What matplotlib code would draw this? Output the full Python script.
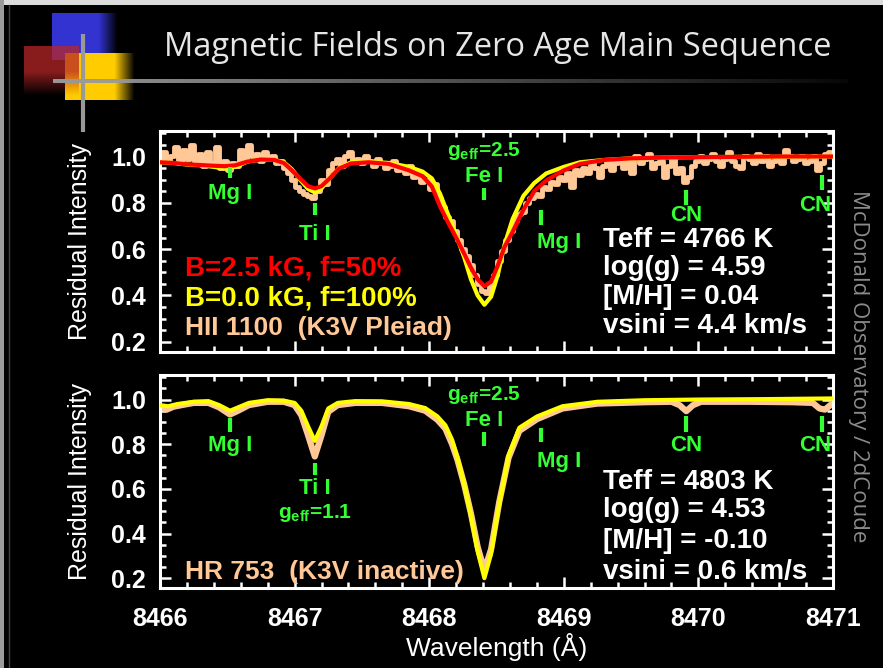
import numpy as np
import matplotlib
matplotlib.use("Agg")
import matplotlib.pyplot as plt
from matplotlib.ticker import MultipleLocator

plt.rcParams['font.family'] = ['Liberation Sans', 'DejaVu Sans']
plt.rcParams['mathtext.fontset'] = 'custom'
plt.rcParams['mathtext.rm'] = 'Liberation Sans:bold'
plt.rcParams['mathtext.it'] = 'Liberation Sans:bold'

# --- HII 1100 (top panel) ---------------------------------------------
# observed spectrum, binned every 0.03 A starting at 8466.00
obs_top_start = 8466.0
obs_top_step = 0.03
obs_top = [
    0.99, 1.02, 0.98, 1.00, 1.04, 0.97, 1.03, 0.99, 1.05, 0.98,
    1.01, 0.96, 1.02, 0.97, 1.04, 0.95, 0.98, 0.94, 0.97, 0.96,
    1.03, 0.99, 1.05, 1.00, 1.01, 0.98, 1.02, 0.99, 1.00, 0.97,
    0.98, 0.95, 0.93, 0.90, 0.87, 0.85, 0.84, 0.83, 0.82, 0.85,
    0.90, 0.88, 0.94, 0.97, 0.99, 0.96, 1.00, 1.02, 0.98, 0.99,
    0.97, 1.00, 0.98, 0.96, 0.99, 0.97, 0.95, 0.96, 0.98, 0.94,
    0.95, 0.93, 0.96, 0.91, 0.93, 0.89, 0.90, 0.86, 0.88, 0.82,
    0.78, 0.74, 0.72, 0.68, 0.64, 0.60, 0.57, 0.53, 0.49, 0.45,
    0.42, 0.41, 0.44, 0.49, 0.55, 0.59, 0.64, 0.68, 0.72, 0.75,
    0.76, 0.80, 0.82, 0.84, 0.83, 0.87, 0.86, 0.89, 0.88, 0.91,
    0.90, 0.93, 0.87, 0.94, 0.92, 0.95, 0.93, 0.97, 0.95, 0.91,
    0.96, 0.98, 0.94, 0.97, 0.99, 0.95, 0.98, 0.93, 1.00, 0.97,
    0.99, 1.01, 0.95, 0.97, 0.98, 0.91, 0.96, 0.99, 0.93, 0.95,
    0.89, 0.91, 0.96, 0.98, 1.00, 0.97, 0.99, 1.01, 0.98, 0.96,
    0.99, 1.02, 0.98, 0.96, 0.95, 1.00, 0.99, 0.97, 1.01, 0.98,
    1.00, 0.96, 0.98, 0.99, 0.97, 1.03, 1.00, 0.98, 0.99, 1.00,
    0.97, 0.98, 1.00, 0.94, 0.97, 1.01, 1.02,
]

# synthetic spectra (B=0 and B=2.5 kG)
wl_model_top = [
    8466.00, 8466.10, 8466.20, 8466.30, 8466.40, 8466.48, 8466.56, 8466.65,
    8466.75, 8466.85, 8466.92, 8466.98, 8467.04, 8467.10, 8467.15, 8467.20,
    8467.26, 8467.33, 8467.42, 8467.55, 8467.70, 8467.85, 8467.95, 8468.02,
    8468.08, 8468.14, 8468.20, 8468.26, 8468.31, 8468.36, 8468.41, 8468.46,
    8468.51, 8468.56, 8468.62, 8468.70, 8468.78, 8468.87, 8469.00, 8469.12,
    8469.30, 8469.50, 8469.80, 8470.20, 8470.60, 8471.00,
]
b0_top = [
    0.975, 0.972, 0.965, 0.962, 0.955, 0.948, 0.955, 0.978,
    0.987, 0.986, 0.975, 0.945, 0.900, 0.860, 0.845, 0.862,
    0.905, 0.950, 0.975, 0.978, 0.972, 0.955, 0.935, 0.905,
    0.840, 0.750, 0.660, 0.565, 0.470, 0.400, 0.360, 0.395,
    0.490, 0.620, 0.730, 0.830, 0.885, 0.927, 0.955, 0.975,
    0.985, 0.992, 0.996, 0.998, 0.999, 1.000,
]
b25_top = [
    0.975, 0.972, 0.966, 0.963, 0.960, 0.958, 0.962, 0.978,
    0.987, 0.985, 0.972, 0.940, 0.905, 0.872, 0.862, 0.872,
    0.905, 0.948, 0.970, 0.975, 0.968, 0.940, 0.915, 0.870,
    0.785, 0.715, 0.650, 0.580, 0.520, 0.470, 0.440, 0.460,
    0.530, 0.610, 0.675, 0.770, 0.850, 0.897, 0.940, 0.968,
    0.985, 0.992, 0.996, 0.998, 1.000, 1.000,
]

# --- HR 753 (bottom panel) ---------------------------------------------
wl_model_bot = [
    8466.00, 8466.06, 8466.13, 8466.25, 8466.36, 8466.44, 8466.52, 8466.58,
    8466.66, 8466.80, 8466.92, 8467.00, 8467.05, 8467.10, 8467.15, 8467.20,
    8467.25, 8467.32, 8467.45, 8467.65, 8467.85, 8467.97, 8468.06, 8468.12,
    8468.17, 8468.21, 8468.26, 8468.31, 8468.36, 8468.41, 8468.46, 8468.51,
    8468.59, 8468.67, 8468.80, 8468.99, 8469.25, 8469.60, 8470.00, 8470.50,
    8471.00,
]
b0_bot = [
    0.975, 0.970, 0.980, 0.990, 0.993, 0.975, 0.950, 0.965,
    0.985, 0.997, 0.995, 0.985, 0.950, 0.880, 0.815, 0.880,
    0.960, 0.985, 0.993, 0.992, 0.980, 0.962, 0.925, 0.885,
    0.820, 0.740, 0.620, 0.480, 0.320, 0.200, 0.310, 0.500,
    0.750, 0.874, 0.924, 0.970, 0.990, 0.997, 1.000, 1.002,
    1.005,
]
wl_obs_bot = [
    8466.00, 8466.05, 8466.10, 8466.16, 8466.25, 8466.36, 8466.44, 8466.52,
    8466.58, 8466.66, 8466.80, 8466.92, 8467.00, 8467.05, 8467.10, 8467.15,
    8467.20, 8467.25, 8467.32, 8467.45, 8467.65, 8467.85, 8467.97, 8468.06,
    8468.12, 8468.17, 8468.21, 8468.26, 8468.31, 8468.36, 8468.41, 8468.46,
    8468.52, 8468.59, 8468.67, 8468.80, 8468.99, 8469.25, 8469.60, 8469.80,
    8469.86, 8469.91, 8469.96, 8470.02, 8470.40, 8470.70, 8470.85, 8470.90,
    8470.94, 8470.98, 8471.00,
]
obs_bot = [
    0.965, 0.955, 0.968, 0.975, 0.985, 0.985, 0.965, 0.933,
    0.950, 0.975, 0.990, 0.990, 0.975, 0.930, 0.840, 0.745,
    0.840, 0.945, 0.975, 0.985, 0.985, 0.970, 0.950, 0.910,
    0.870, 0.800, 0.730, 0.620, 0.490, 0.340, 0.235, 0.330,
    0.540, 0.740, 0.860, 0.912, 0.960, 0.982, 0.988, 0.990,
    0.975, 0.948, 0.975, 0.990, 0.990, 0.988, 0.985, 0.960,
    0.955, 0.975, 0.985,
]

# --- line identifications
line_wl = [8466.52, 8467.15, 8468.41, 8468.83, 8469.91, 8470.92]
line_names = ['Mg I', 'Ti I', 'Fe I', 'Mg I', 'CN', 'CN']
tick_lo_top = [0.905, 0.746, 0.810, 0.703, 0.789, 0.854]
tick_hi_top = [0.953, 0.798, 0.862, 0.768, 0.854, 0.918]
label_y_top = [0.840, 0.665, 0.912, 0.630, 0.746, 0.790]
tick_lo_bot = [0.856, 0.663, 0.793, 0.811, 0.856, 0.856]
tick_hi_bot = [0.919, 0.717, 0.856, 0.874, 0.928, 0.928]
label_y_bot = [0.793, 0.602, 0.905, 0.721, 0.793, 0.793]

params_top = ['Teff = 4766 K', 'log(g) = 4.59', '[M/H] = 0.04', 'vsini = 4.4 km/s']
params_bot = ['Teff = 4803 K', 'log(g) = 4.53', '[M/H] = -0.10', 'vsini = 0.6 km/s']
params_y_top = [0.639, 0.518, 0.394, 0.269]
params_y_bot = [0.631, 0.506, 0.366, 0.227]

PEACH = '#FFC896'
GREEN = '#33FF33'
W, H = 883, 668

fig = plt.figure(figsize=(W / 100, H / 100), dpi=100, facecolor='black')

# slide decoration layer in pixel coordinates
deco = fig.add_axes([0, 0, 1, 1], zorder=0)
deco.set_xlim(0, W)
deco.set_ylim(H, 0)
deco.axis('off')
deco.add_patch(plt.Rectangle((0, 0), W, 5, color='#DCDCDC', lw=0))
deco.add_patch(plt.Rectangle((0, 0), 4, H, color='#9A9A9A', lw=0))
deco.plot([9, 9], [5, H], color='#404040', lw=1)


def fade_square(x0, x1, y0, y1, rgb, alpha=1.0, horizontal=True, frac=0.3, z=1):
    n = 64
    ramp = np.ones(n)
    k = int(n * frac)
    ramp[n - k:] = np.linspace(1, 0, k)
    img = np.zeros((n, n, 4))
    img[..., :3] = rgb
    if horizontal:
        img[..., 3] = alpha * ramp[None, :]
    else:
        img[..., 3] = alpha * ramp[:, None]
    deco.imshow(img, extent=(x0, x1, y1, y0), aspect='auto', zorder=z,
                interpolation='bilinear')


fade_square(52, 118, 13, 60, (0.2, 0.2, 0.82), z=1)
fade_square(65, 135, 53, 100, (1.0, 0.8, 0.0), z=2)
fade_square(24, 79, 46, 96, (0.72, 0.15, 0.15), alpha=0.75, horizontal=False,
            frac=0.5, z=3)
# grey rule under the title, fading to the right
rule = np.zeros((1, 256, 4))
rule[..., :3] = 0.6
rule[..., 3] = np.linspace(1, 0.05, 256)
deco.imshow(rule, extent=(53, 848, 83, 79), aspect='auto', zorder=4)
deco.plot([83, 83], [34, 132], color='#999999', lw=3, zorder=5,
          solid_capstyle='butt')

fig.text(498 / W, 1 - 48 / H, 'Magnetic Fields on Zero Age Main Sequence',
         color='#E6E6E6', fontsize=23.5, ha='center', va='center',
         family='Open Sans')
fig.text(858 / W, 1 - 366 / H, 'McDonald Observatory / 2dCoude',
         color='#8C8C8C', fontsize=16, rotation=-90, ha='center', va='center',
         family='Open Sans')

ax1 = fig.add_axes([160 / W, 1 - 352 / H, 673 / W, 221 / H], zorder=2)
ax2 = fig.add_axes([160 / W, 1 - 588 / H, 673 / W, 213 / H], zorder=2)

for ax in (ax1, ax2):
    ax.set_facecolor('black')
    ax.set_xlim(8466, 8471)
    ax.set_ylim(0.156, 1.11)
    for sp in ax.spines.values():
        sp.set_color('white')
        sp.set_linewidth(2.2)
    ax.xaxis.set_major_locator(MultipleLocator(1))
    ax.xaxis.set_minor_locator(MultipleLocator(0.2))
    ax.yaxis.set_major_locator(MultipleLocator(0.2))
    ax.yaxis.set_minor_locator(MultipleLocator(0.05))
    ax.tick_params(which='both', direction='in', colors='white', top=True,
                   right=True, width=1.8, labelsize=18)
    ax.tick_params(axis='y', pad=10)
    ax.tick_params(axis='x', pad=14)
    ax.tick_params(which='major', length=8)
    ax.tick_params(which='minor', length=4)
    ax.set_yticks([0.2, 0.4, 0.6, 0.8, 1.0])
    ax.set_yticklabels(['0.2', '0.4', '0.6', '0.8', '1.0'], fontweight='bold')
    ax.set_ylabel('Residual Intensity', color='white', fontsize=18,
                  labelpad=14)

ax1.tick_params(labelbottom=False)
ax2.set_xticks([8466, 8467, 8468, 8469, 8470, 8471])
ax2.set_xticklabels(['8466', '8467', '8468', '8469', '8470', '8471'],
                    fontweight='bold')
ax2.set_xlabel('Wavelength (Å)', color='white', fontsize=19, labelpad=1)

# top panel spectra
wl_obs_top = obs_top_start + obs_top_step * np.arange(len(obs_top))
ax1.plot(wl_obs_top, obs_top, color=PEACH, lw=3.5, drawstyle='steps-mid',
         zorder=2)
ax1.plot(wl_model_top, b0_top, color='#FFFF00', lw=3, zorder=3)
ax1.plot(wl_model_top, b25_top, color='#FF0000', lw=3, zorder=4)

# bottom panel spectra
ax2.plot(wl_obs_bot, obs_bot, color=PEACH, lw=4.5, zorder=2)
ax2.plot(wl_model_bot, b0_bot, color='#FFFF00', lw=3, zorder=3)


def mark_lines(ax, lo, hi, ly):
    ax.vlines(line_wl, lo, hi, color=GREEN, lw=3, zorder=5)
    for i, (w, name, y) in enumerate(zip(line_wl, line_names, ly)):
        ha = 'center'
        if i == 3:
            ha, w = 'left', w - 0.03
        if i == 5:
            ha, w = 'right', w + 0.07
        ax.text(w, y, name, color=GREEN, fontsize=16, fontweight='bold',
                ha=ha, va='center', zorder=6)
    ax.text(8468.41, 1.022, r'g$_{\mathrm{eff}}$=2.5', color=GREEN,
            fontsize=15, fontweight='bold', ha='center', va='center', zorder=6)


mark_lines(ax1, tick_lo_top, tick_hi_top, label_y_top)
mark_lines(ax2, tick_lo_bot, tick_hi_bot, label_y_bot)
ax2.text(8467.15, 0.490, r'g$_{\mathrm{eff}}$=1.1', color=GREEN, fontsize=15,
         fontweight='bold', ha='center', va='center', zorder=6)

for ax, lines, ys in ((ax1, params_top, params_y_top), (ax2, params_bot, params_y_bot)):
    for s, y in zip(lines, ys):
        ax.text(8469.29, y, s, color='white', fontsize=20, fontweight='bold',
                ha='left', va='center', zorder=6)

legend_x = 8466.186
ax1.text(legend_x, 0.518, 'B=2.5 kG, f=50%', color='#FF0000', fontsize=20,
         fontweight='bold', va='center', zorder=6)
ax1.text(legend_x, 0.389, 'B=0.0 kG, f=100%', color='#FFFF00', fontsize=20,
         fontweight='bold', va='center', zorder=6)
ax1.text(legend_x, 0.260, 'HII 1100  (K3V Pleiad)', color=PEACH, fontsize=19,
         fontweight='bold', va='center', zorder=6)
ax2.text(legend_x, 0.227, 'HR 753  (K3V inactive)', color=PEACH, fontsize=19,
         fontweight='bold', va='center', zorder=6)

fig.savefig('out.png', dpi=100, facecolor='black')
